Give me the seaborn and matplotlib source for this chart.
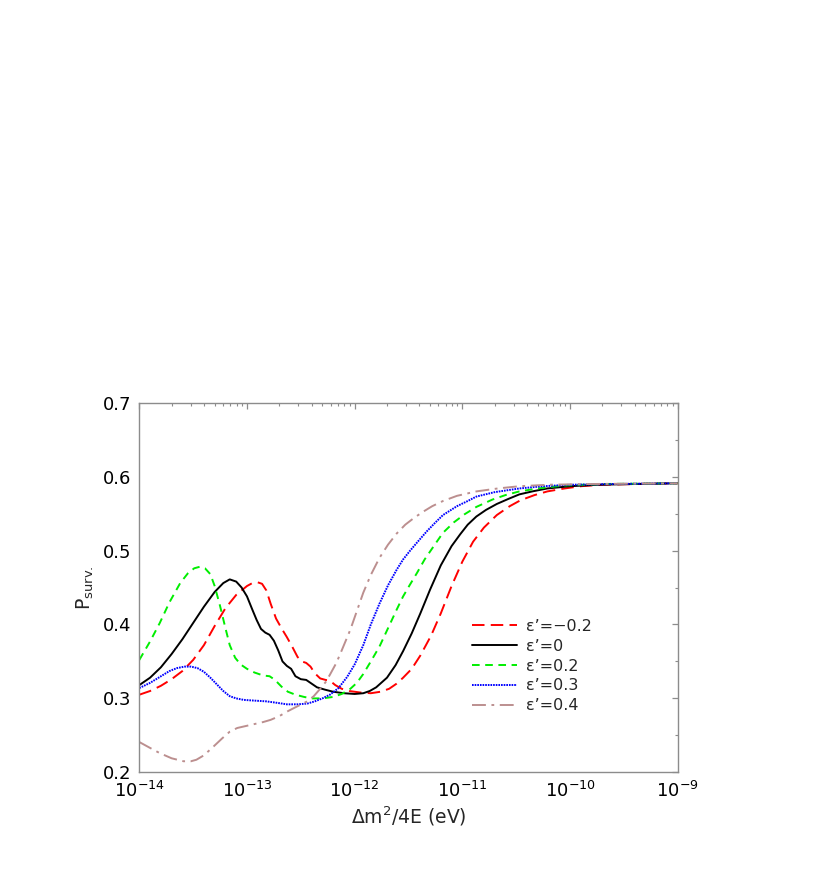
import numpy as np
import pandas as pd
import matplotlib
matplotlib.use("Agg")
import matplotlib.pyplot as plt
import matplotlib.ticker as mticker
import seaborn as sns

# log10 of dm^2/4E (eV) and survival probability
LOGX_M02 = [-14.00, -13.90, -13.80, -13.70, -13.60, -13.50, -13.40, -13.30, -13.20, -13.10,
            -13.00, -12.95, -12.90, -12.86, -12.82, -12.78, -12.73, -12.68, -12.63, -12.58,
            -12.53, -12.49, -12.45, -12.41, -12.37, -12.32, -12.27, -12.23, -12.18, -12.12,
            -12.05, -11.95, -11.85, -11.76, -11.68, -11.61, -11.55, -11.47, -11.39, -11.29,
            -11.20, -11.10, -11.00, -10.90, -10.80, -10.68, -10.56, -10.46, -10.33, -10.21,
            -10.05, -9.90, -9.70, -9.40, -9.00]
P_M02 = [0.305, 0.310, 0.317, 0.326, 0.337, 0.352, 0.372, 0.398, 0.422, 0.440,
         0.452, 0.456, 0.457, 0.455, 0.446, 0.428, 0.408, 0.395, 0.383, 0.370,
         0.356, 0.350, 0.348, 0.343, 0.334, 0.327, 0.325, 0.324, 0.318, 0.313,
         0.310, 0.308, 0.307, 0.309, 0.313, 0.320, 0.328, 0.340, 0.358, 0.385,
         0.415, 0.452, 0.485, 0.512, 0.531, 0.548, 0.560, 0.568, 0.575, 0.580,
         0.584, 0.587, 0.589, 0.590, 0.591]

LOGX_0 = [-14.00, -13.90, -13.80, -13.70, -13.60, -13.50, -13.40, -13.30, -13.22, -13.16,
          -13.10, -13.05, -13.00, -12.95, -12.91, -12.87, -12.83, -12.79, -12.75, -12.71,
          -12.67, -12.63, -12.59, -12.55, -12.50, -12.45, -12.40, -12.35, -12.28, -12.20,
          -12.10, -12.00, -11.92, -11.86, -11.80, -11.70, -11.62, -11.55, -11.47, -11.39,
          -11.30, -11.20, -11.10, -11.02, -10.95, -10.87, -10.78, -10.68, -10.57, -10.47,
          -10.35, -10.21, -10.00, -9.75, -9.40, -9.00]
P_0 = [0.318, 0.328, 0.342, 0.360, 0.380, 0.402, 0.424, 0.444, 0.456, 0.461,
       0.458, 0.450, 0.438, 0.420, 0.406, 0.394, 0.389, 0.386, 0.378, 0.365,
       0.350, 0.344, 0.340, 0.330, 0.326, 0.325, 0.320, 0.315, 0.312, 0.309,
       0.307, 0.306, 0.307, 0.310, 0.315, 0.328, 0.345, 0.364, 0.388, 0.415,
       0.447, 0.480, 0.506, 0.522, 0.535, 0.546, 0.555, 0.563, 0.570, 0.576,
       0.580, 0.584, 0.587, 0.589, 0.590, 0.591]

LOGX_02 = [-14.00, -13.90, -13.81, -13.72, -13.62, -13.55, -13.49, -13.44, -13.39, -13.34,
           -13.30, -13.25, -13.20, -13.16, -13.11, -13.06, -13.00, -12.93, -12.85, -12.79,
           -12.74, -12.68, -12.62, -12.55, -12.47, -12.40, -12.30, -12.20, -12.12, -12.04,
           -11.98, -11.92, -11.85, -11.77, -11.69, -11.61, -11.55, -11.49, -11.42, -11.35,
           -11.27, -11.18, -11.08, -10.98, -10.87, -10.72, -10.60, -10.47, -10.30, -10.06,
           -9.70, -9.00]
P_02 = [0.352, 0.377, 0.402, 0.430, 0.456, 0.469, 0.476, 0.478, 0.476, 0.468,
        0.452, 0.425, 0.395, 0.372, 0.355, 0.346, 0.340, 0.335, 0.331, 0.330,
        0.325, 0.316, 0.309, 0.305, 0.302, 0.300, 0.300, 0.302, 0.306, 0.313,
        0.321, 0.333, 0.350, 0.370, 0.395, 0.420, 0.438, 0.453, 0.470, 0.488,
        0.505, 0.524, 0.538, 0.549, 0.559, 0.569, 0.575, 0.580, 0.584, 0.588,
        0.590, 0.591]

LOGX_03 = [-14.00, -13.90, -13.81, -13.72, -13.65, -13.58, -13.52, -13.46, -13.40, -13.34,
           -13.28, -13.22, -13.16, -13.10, -13.03, -12.93, -12.82, -12.72, -12.63, -12.53,
           -12.44, -12.37, -12.30, -12.23, -12.15, -12.07, -12.00, -11.92, -11.85, -11.77,
           -11.69, -11.61, -11.55, -11.49, -11.42, -11.33, -11.25, -11.18, -11.05, -10.95,
           -10.87, -10.70, -10.47, -10.25, -10.00, -9.60, -9.00]
P_03 = [0.314, 0.321, 0.329, 0.337, 0.341, 0.343, 0.343, 0.341, 0.336, 0.328,
        0.319, 0.310, 0.303, 0.300, 0.298, 0.297, 0.296, 0.294, 0.292, 0.292,
        0.293, 0.296, 0.300, 0.305, 0.314, 0.329, 0.346, 0.372, 0.400, 0.428,
        0.453, 0.474, 0.488, 0.499, 0.511, 0.526, 0.538, 0.548, 0.560, 0.567,
        0.573, 0.579, 0.584, 0.587, 0.589, 0.590, 0.591]

LOGX_04 = [-14.00, -13.90, -13.81, -13.70, -13.59, -13.52, -13.47, -13.40, -13.31, -13.23,
           -13.16, -13.09, -13.03, -12.97, -12.91, -12.85, -12.78, -12.70, -12.63, -12.55,
           -12.44, -12.38, -12.32, -12.27, -12.23, -12.17, -12.12, -12.04, -11.98, -11.92,
           -11.85, -11.77, -11.69, -11.61, -11.53, -11.45, -11.37, -11.28, -11.18, -11.05,
           -10.87, -10.67, -10.47, -10.20, -9.80, -9.00]
P_04 = [0.241, 0.233, 0.226, 0.219, 0.215, 0.215, 0.217, 0.223, 0.235, 0.246,
        0.255, 0.260, 0.262, 0.264, 0.266, 0.268, 0.271, 0.276, 0.282, 0.288,
        0.296, 0.303, 0.313, 0.322, 0.332, 0.348, 0.365, 0.393, 0.418, 0.443,
        0.467, 0.490, 0.508, 0.523, 0.535, 0.544, 0.552, 0.560, 0.567, 0.574,
        0.580, 0.584, 0.587, 0.589, 0.590, 0.591]

LABELS = ["ε’=−0.2", "ε’=0", "ε’=0.2", "ε’=0.3", "ε’=0.4"]
SERIES = [(LOGX_M02, P_M02), (LOGX_0, P_0), (LOGX_02, P_02), (LOGX_03, P_03), (LOGX_04, P_04)]
COLORS = ["#ff0000", "#000000", "#00ee00", "#0000ff", "#bc8f8f"]
DASHES = [(9, 4.5), "", (5.5, 4), (1.2, 0.7), (10, 4, 2, 4)]

sns.set_theme(style="white")
plt.rcParams["font.family"] = ["DejaVu Sans"]
plt.rcParams["mathtext.fontset"] = "dejavusans"
plt.rcParams["lines.scale_dashes"] = False

frames = []
for (lx, p), lab in zip(SERIES, LABELS):
    frames.append(pd.DataFrame({"x": np.power(10.0, lx), "P": p, "curve": lab}))
df = pd.concat(frames, ignore_index=True)

fig = plt.figure(figsize=(8.17, 8.72), dpi=100)
ax = fig.add_axes([0.1705, 0.1143, 0.659, 0.4239])
ax.set_xscale("log")

sns.lineplot(data=df, x="x", y="P", hue="curve", style="curve",
             hue_order=LABELS, style_order=LABELS,
             palette=dict(zip(LABELS, COLORS)), dashes=dict(zip(LABELS, DASHES)),
             estimator=None, sort=True, linewidth=1.4, ax=ax)

ax.set_xlim(1e-14, 1e-9)
ax.set_ylim(0.2, 0.7)
ax.yaxis.set_major_locator(mticker.MultipleLocator(0.1))
ax.yaxis.set_minor_locator(mticker.MultipleLocator(0.05))
ax.yaxis.set_major_formatter(mticker.FormatStrFormatter("%.1f"))
ax.xaxis.set_major_locator(mticker.LogLocator(base=10, numticks=10))
ax.xaxis.set_minor_locator(mticker.LogLocator(base=10, subs=np.arange(2, 10), numticks=100))
ax.xaxis.set_minor_formatter(mticker.NullFormatter())

for sp in ax.spines.values():
    sp.set_color("#8c8c8c")
    sp.set_linewidth(1.0)
ax.tick_params(which="both", direction="in", top=True, right=True,
               color="#8c8c8c", labelsize=13, labelcolor="black")
ax.tick_params(which="major", length=4.5, width=0.9, pad=6)
ax.tick_params(which="minor", length=2.5, width=0.8)

ax.set_xlabel("Δm$^2$/4E (eV)", fontsize=13.5, labelpad=3)
ax.set_ylabel("P$_{\\mathregular{surv.}}$", fontsize=13.5, labelpad=5)

leg = ax.legend(loc="upper left", bbox_to_anchor=(0.618, 0.415), frameon=False,
                fontsize=11.5, handlelength=2.8, handletextpad=0.6, labelspacing=0.3,
                borderaxespad=0, borderpad=0)
for line in leg.get_lines():
    line.set_linewidth(1.4)

fig.savefig("out.png", dpi=100)
